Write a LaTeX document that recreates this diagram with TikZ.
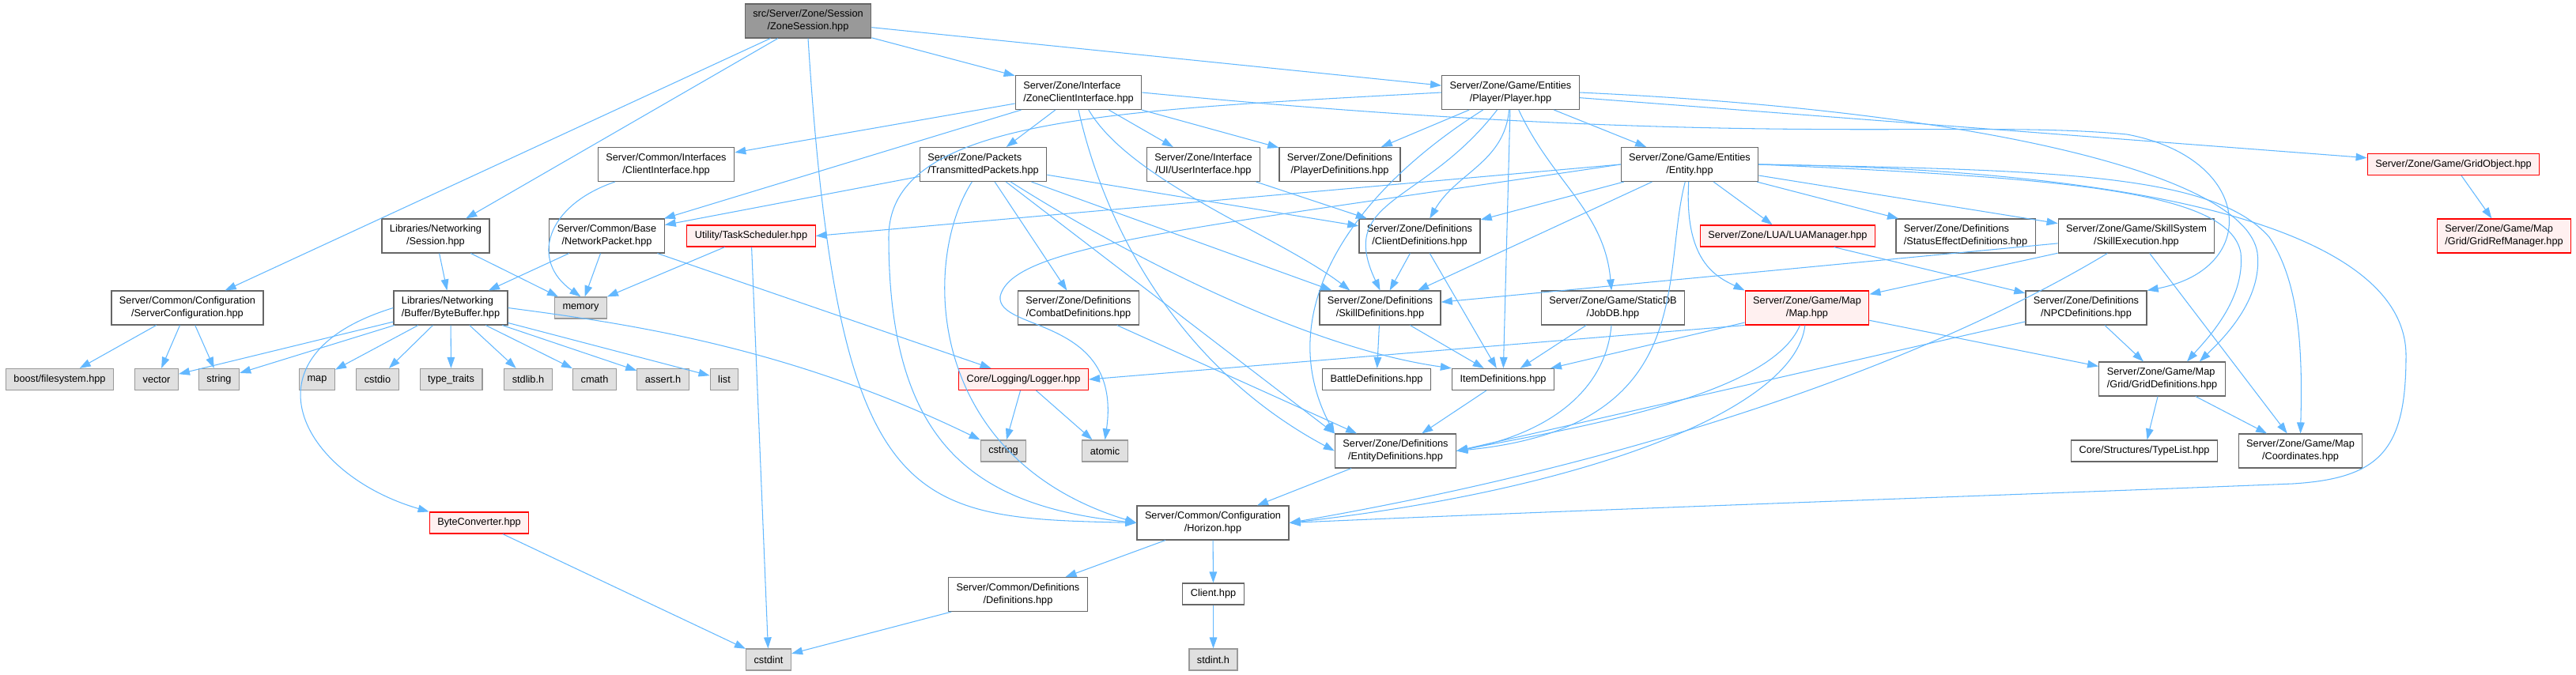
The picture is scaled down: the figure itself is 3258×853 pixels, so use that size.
\documentclass[tikz,border=0pt]{standalone}
\usepackage{fontspec}
\setmainfont{Liberation Sans}
\usetikzlibrary{arrows.meta}

\definecolor{edgeblue}{HTML}{63B8FF}
\definecolor{pinkfill}{HTML}{FFF0F0}
\definecolor{sysgray}{HTML}{E0E0E0}

% first line flush left, last line centred (as in the include graph)
\newcommand{\twoline}[2]{%
  \setbox0=\hbox{#1}\setbox2=\hbox{#2}%
  \dimen0=\wd0 \ifdim\wd2>\dimen0 \dimen0=\wd2\fi
  \vbox{\hbox to\dimen0{\box0\hfil}\hbox to\dimen0{\hfil\box2\hfil}}}

\begin{document}
\begin{tikzpicture}[x=0.02cm, y=-0.02cm, >={Triangle[length=8pt,width=5.5pt]},
  font=\fontsize{7.25pt}{9.1pt}\selectfont,
  file/.style={draw=black!60, fill=white, line width=0.7pt, inner xsep=0.2cm, inner ysep=0.15cm, minimum height=0.54cm},
  rootfile/.style={file, fill=black!40},
  redfile/.style={file, draw=red, fill=pinkfill},
  sysfile/.style={file, draw=black!40, fill=sysgray},
  dep/.style={->, draw=edgeblue, line width=0.6pt}]
\useasboundingbox (0,0) rectangle (3258,853);

% Rank 0-1: the header itself and its direct includes
\node[rootfile] (zs) at (1022,26.5) {\twoline{src/Server/Zone/Session}{/ZoneSession.hpp}};
\node[file] (zci) at (1364,117) {\twoline{Server/Zone/Interface}{/ZoneClientInterface.hpp}};
\node[file] (player) at (1910.5,117) {\twoline{Server/Zone/Game/Entities}{/Player/Player.hpp}};

% Rank 2
\node[file] (clientif) at (842.5,208) {\twoline{Server/Common/Interfaces}{/ClientInterface.hpp}};
\node[file] (transpk) at (1243.5,208) {\twoline{Server/Zone/Packets}{/TransmittedPackets.hpp}};
\node[file] (userif) at (1522,208) {\twoline{Server/Zone/Interface}{/UI/UserInterface.hpp}};
\node[file] (playerdef) at (1694.5,208) {\twoline{Server/Zone/Definitions}{/PlayerDefinitions.hpp}};
\node[file] (entity) at (2137,208) {\twoline{Server/Zone/Game/Entities}{/Entity.hpp}};
\node[redfile] (gridobj) at (3103,208) {Server/Zone/Game/GridObject.hpp};

% Rank 3
\node[file] (session) at (551,298.5) {\twoline{Libraries/Networking}{/Session.hpp}};
\node[file] (netpkt) at (767.5,298.5) {\twoline{Server/Common/Base}{/NetworkPacket.hpp}};
\node[redfile] (tasksch) at (950,298.5) {Utility/TaskScheduler.hpp};
\node[file] (clientdef) at (1795.5,298.5) {\twoline{Server/Zone/Definitions}{/ClientDefinitions.hpp}};
\node[redfile] (luamgr) at (2261,298.5) {Server/Zone/LUA/LUAManager.hpp};
\node[file] (statusdef) at (2486,298.5) {\twoline{Server/Zone/Definitions}{/StatusEffectDefinitions.hpp}};
\node[file] (skillexec) at (2702,298.5) {\twoline{Server/Zone/Game/SkillSystem}{/SkillExecution.hpp}};
\node[redfile] (gridref) at (3167,298.5) {\twoline{Server/Zone/Game/Map}{/Grid/GridRefManager.hpp}};

% Rank 4
\node[file] (servcfg) at (237,389.5) {\twoline{Server/Common/Configuration}{/ServerConfiguration.hpp}};
\node[file] (bytebuf) at (570,389.5) {\twoline{Libraries/Networking}{/Buffer/ByteBuffer.hpp}};
\node[sysfile] (memory) at (734.5,389.5) {memory};
\node[file] (combatdef) at (1364,389.5) {\twoline{Server/Zone/Definitions}{/CombatDefinitions.hpp}};
\node[file] (skilldef) at (1745.5,389.5) {\twoline{Server/Zone/Definitions}{/SkillDefinitions.hpp}};
\node[file] (jobdb) at (2040,389.5) {\twoline{Server/Zone/Game/StaticDB}{/JobDB.hpp}};
\node[redfile] (map) at (2285.5,389.5) {\twoline{Server/Zone/Game/Map}{/Map.hpp}};
\node[file] (npcdef) at (2638.5,389.5) {\twoline{Server/Zone/Definitions}{/NPCDefinitions.hpp}};
\node[file] (griddef) at (2734.5,479.5) {\twoline{Server/Zone/Game/Map}{/Grid/GridDefinitions.hpp}};

% Rank 5: system headers and leaves
\node[sysfile] (boost) at (75.5,480) {boost/filesystem.hpp};
\node[sysfile] (vector) at (198,480) {vector};
\node[sysfile] (string) at (277,480) {string};
\node[sysfile] (stdmap) at (401,480) {map};
\node[sysfile] (cstdio) at (477.5,480) {cstdio};
\node[sysfile] (typetraits) at (570.5,480) {type\_traits};
\node[sysfile] (stdlib) at (668,480) {stdlib.h};
\node[sysfile] (cmath) at (752,480) {cmath};
\node[sysfile] (asserth) at (838.5,480) {assert.h};
\node[sysfile] (list) at (916,480) {list};
\node[redfile] (logger) at (1294.5,480) {Core/Logging/Logger.hpp};
\node[file] (battledef) at (1741,480) {BattleDefinitions.hpp};
\node[file] (itemdef) at (1901,480) {ItemDefinitions.hpp};

% Rank 6
\node[sysfile] (cstring) at (1269,570.5) {cstring};
\node[sysfile] (atomic) at (1397.5,570.5) {atomic};
\node[file] (entitydef) at (1765,570.5) {\twoline{Server/Zone/Definitions}{/EntityDefinitions.hpp}};
\node[file] (typelist) at (2712,570.5) {Core/Structures/TypeList.hpp};
\node[file] (coords) at (2909.5,570.5) {\twoline{Server/Zone/Game/Map}{/Coordinates.hpp}};

% Rank 7-9
\node[redfile] (byteconv) at (606,661.5) {ByteConverter.hpp};
\node[file] (horizon) at (1534,661.5) {\twoline{Server/Common/Configuration}{/Horizon.hpp}};
\node[file] (definitions) at (1287.5,752) {\twoline{Server/Common/Definitions}{/Definitions.hpp}};
\node[file] (client) at (1534.5,751.5) {Client.hpp};
\node[sysfile] (cstdint) at (972,834.5) {cstdint};
\node[sysfile] (stdinth) at (1534.5,834.5) {stdint.h};

% ZoneSession.hpp
\draw[dep] (zs) -- (servcfg); \draw[dep] (zs) -- (session);
\draw[dep] (zs) -- (zci); \draw[dep] (zs) -- (player);
\draw[dep] (zs.south) .. controls (1060,650) and (1150,655) .. (horizon.west);

% ZoneClientInterface.hpp
\draw[dep] (zci) -- (clientif); \draw[dep] (zci) -- (netpkt);
\draw[dep] (zci) -- (transpk); \draw[dep] (zci) -- (userif);
\draw[dep] (zci) -- (playerdef);
\draw[dep] (zci.south) .. controls (1400,300) and (1500,470) .. (entitydef.west);
\draw[dep] (zci) .. controls (1430,230) and (1620,300) .. (skilldef.150);
\draw[dep] (zci.east) .. controls (2200,190) and (2480,150) .. (2690,170) .. controls (2850,200) and (2860,340) .. (npcdef.north east);

% TransmittedPackets.hpp
\draw[dep] (transpk) -- (netpkt); \draw[dep] (transpk) -- (combatdef);
\draw[dep] (transpk) -- (clientdef); \draw[dep] (transpk) -- (skilldef);
\draw[dep] (transpk) -- (entitydef.north west);
\draw[dep] (transpk) .. controls (1420,320) and (1650,440) .. (itemdef.north west);
\draw[dep] (transpk) .. controls (1165,330) and (1170,580) .. (horizon.west);

% Player.hpp
\draw[dep] (player) -- (playerdef); \draw[dep] (player) -- (entity);
\draw[dep] (player) -- (itemdef); \draw[dep] (player) -- (gridobj);
\draw[dep] (player) to[out=-95,in=60] (clientdef);
\draw[dep] (player) to[out=-65,in=95] (jobdb);
\draw[dep] (player) .. controls (1800,260) and (1690,250) .. (skilldef.north);
\draw[dep] (player) .. controls (1700,250) and (1610,400) .. (entitydef.north west);
\draw[dep] (player.east) .. controls (2500,140) and (2840,220) .. (2855,320) .. controls (2862,380) and (2810,430) .. (griddef.25);
\draw[dep] (player.west) .. controls (1400,140) and (1124,150) .. (1124,300) .. controls (1124,560) and (1230,640) .. (horizon.west);

% Entity.hpp
\draw[dep] (entity.west) -- (tasksch.east); \draw[dep] (entity) -- (clientdef);
\draw[dep] (entity) -- (skilldef); \draw[dep] (entity) -- (luamgr);
\draw[dep] (entity) -- (statusdef); \draw[dep] (entity) -- (skillexec);
\draw[dep] (entity.west) .. controls (1500,290) and (1280,310) .. (1265,375) .. controls (1260,420) and (1420,400) .. (atomic.north);
\draw[dep] (entity) .. controls (2100,350) and (2150,540) .. (entitydef.east);
\draw[dep] (entity) .. controls (2130,330) and (2170,350) .. (map.north west);
\draw[dep] (entity.east) .. controls (2600,225) and (2820,240) .. (2834,320) .. controls (2840,380) and (2790,430) .. (griddef.35);
\draw[dep] (entity.east) .. controls (2600,215) and (2800,220) .. (2870,300) .. controls (2910,360) and (2912,450) .. (coords.north);
\draw[dep] (entity.east) .. controls (2750,215) and (3043,300) .. (3043,450) .. controls (3043,570) and (3010,605) .. (2900,612) .. controls (2500,628) and (2000,645) .. (horizon.east);

% SkillExecution.hpp, LUAManager.hpp, NPCDefinitions.hpp
\draw[dep] (skillexec) -- (skilldef); \draw[dep] (skillexec) -- (map);
\draw[dep] (skillexec) -- (coords);
\draw[dep] (skillexec) .. controls (2450,450) and (2100,580) .. (horizon.east);
\draw[dep] (luamgr) -- (npcdef);
\draw[dep] (npcdef) -- (griddef); \draw[dep] (npcdef) -- (entitydef.east);

% Map.hpp, JobDB.hpp
\draw[dep] (map.south west) -- (logger.east); \draw[dep] (map) -- (itemdef); \draw[dep] (map) -- (griddef);
\draw[dep] (map) .. controls (2240,500) and (2000,540) .. (entitydef.east);
\draw[dep] (map) .. controls (2270,520) and (2000,620) .. (horizon.east);
\draw[dep] (jobdb) -- (itemdef);
\draw[dep] (jobdb) .. controls (2030,500) and (1950,550) .. (entitydef.east);

% definition headers
\draw[dep] (userif) -- (clientdef);
\draw[dep] (clientdef) -- (skilldef); \draw[dep] (clientdef) -- (itemdef);
\draw[dep] (skilldef) -- (battledef); \draw[dep] (skilldef) -- (itemdef);
\draw[dep] (itemdef) -- (entitydef); \draw[dep] (combatdef) -- (entitydef);
\draw[dep] (entitydef) -- (horizon);

% networking side
\draw[dep] (clientif) .. controls (690,260) and (670,330) .. (memory.north);
\draw[dep] (netpkt) -- (bytebuf); \draw[dep] (netpkt) -- (memory); \draw[dep] (netpkt) -- (logger);
\draw[dep] (tasksch) -- (memory); \draw[dep] (tasksch) -- (cstdint);
\draw[dep] (session) -- (bytebuf); \draw[dep] (session) -- (memory);
\draw[dep] (servcfg) -- (boost); \draw[dep] (servcfg) -- (vector); \draw[dep] (servcfg) -- (string);
\draw[dep] (bytebuf) -- (vector); \draw[dep] (bytebuf) -- (string); \draw[dep] (bytebuf) -- (stdmap);
\draw[dep] (bytebuf) -- (cstdio); \draw[dep] (bytebuf) -- (typetraits); \draw[dep] (bytebuf) -- (stdlib);
\draw[dep] (bytebuf) -- (cmath); \draw[dep] (bytebuf) -- (asserth); \draw[dep] (bytebuf) -- (list);
\draw[dep] (bytebuf.east) .. controls (800,410) and (1000,440) .. (cstring.north west);
\draw[dep] (bytebuf.west) .. controls (300,450) and (380,600) .. (byteconv.north west);
\draw[dep] (byteconv) -- (cstdint);
\draw[dep] (logger) -- (cstring); \draw[dep] (logger) -- (atomic);

% bottom of the graph
\draw[dep] (horizon) -- (definitions); \draw[dep] (horizon) -- (client);
\draw[dep] (definitions) -- (cstdint); \draw[dep] (client) -- (stdinth);
\draw[dep] (gridobj) -- (gridref);
\draw[dep] (griddef) -- (typelist); \draw[dep] (griddef) -- (coords);
\end{tikzpicture}
\end{document}
